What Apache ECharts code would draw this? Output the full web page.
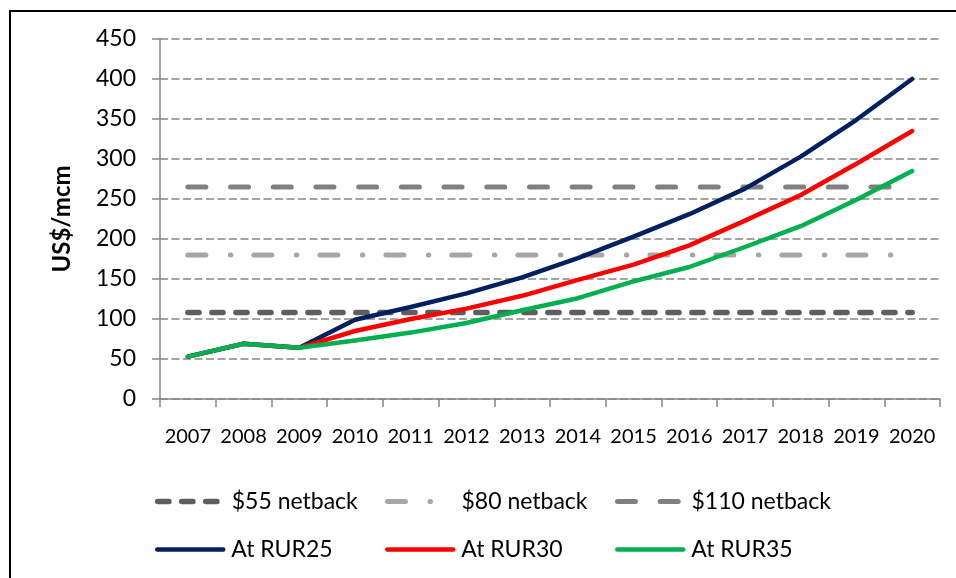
<!DOCTYPE html>
<html>
<head>
<meta charset="utf-8">
<script src="https://cdn.jsdelivr.net/npm/echarts@6/dist/echarts.min.js"></script>
<style>
  html, body { margin: 0; padding: 0; background: #fff; }
  #chart-container { width: 956px; height: 578px; }
</style>
</head>
<body>
<div id="chart-container"></div>
<script>
// chart values
var years = ["2007", "2008", "2009", "2010", "2011", "2012", "2013",
             "2014", "2015", "2016", "2017", "2018", "2019", "2020"];

var rur25 = [53, 69, 64, 99, 115, 132, 152, 176, 203, 231, 263, 303, 349, 400];
var rur30 = [53, 69, 64, 85, 100, 113, 129, 149, 168, 192, 223, 255, 294, 335];
var rur35 = [53, 69, 64, 73, 83, 95, 111, 126, 147, 165, 190, 216, 249, 285];

var netback55 = 108;
var netback80 = 180;
var netback110 = 265;

var yTicks = { min: 0, max: 450, step: 50 };

var fontName = "Lato";

function flat(v) {
  var out = [];
  for (var i = 0; i < years.length; i++) out.push(v);
  return out;
}

var seriesDefs = [
  { name: "$55 netback", data: flat(netback55), color: "#5e5e5e", width: 5.5, type: [11.2, 12.8] },
  { name: "$80 netback", data: flat(netback80), color: "#a6a6a6", width: 5, type: [18, 24.5, 0.5, 23] },
  { name: "$110 netback", data: flat(netback110), color: "#808080", width: 5, type: [18, 24.7] },
  { name: "At RUR25", data: rur25, color: "#002060", width: 4.5, type: "solid" },
  { name: "At RUR30", data: rur30, color: "#ff0000", width: 4.5, type: "solid" },
  { name: "At RUR35", data: rur35, color: "#00b050", width: 4.5, type: "solid" }
];

// legend laid out as 3 columns x 2 rows
var legendCols = [155, 385, 615];
var legendRows = [490, 538];

var legends = seriesDefs.map(function (s, i) {
  return {
    data: [s.name],
    left: legendCols[i % 3],
    top: legendRows[Math.floor(i / 3)],
    padding: 0,
    itemWidth: 66,
    itemHeight: 2,
    selectedMode: false,
    itemStyle: { color: "transparent", borderWidth: 0, borderColor: "transparent" },
    lineStyle: { width: s.width },
    textStyle: {
      fontFamily: fontName,
      fontSize: 23,
      color: "#000",
      padding: [0, 0, 0, 3]
    }
  };
});

var option = {
  animation: false,
  backgroundColor: "#fff",
  textStyle: { fontFamily: fontName },
  graphic: [
    {
      type: "rect",
      shape: { x: 10, y: 11, width: 1000, height: 1000 },
      style: { fill: "none", stroke: "#000", lineWidth: 2 },
      silent: true
    }
  ],
  legend: legends,
  grid: {
    left: 160,
    right: 16,
    top: 39,
    bottom: 179,
    outerBoundsMode: "none"
  },
  xAxis: {
    type: "category",
    data: years,
    boundaryGap: true,
    axisLine: { lineStyle: { color: "#868686", width: 1.5 } },
    axisTick: { show: true, length: 8, interval: 0, lineStyle: { color: "#868686", width: 1.5 } },
    axisLabel: { interval: 0, color: "#000", fontSize: 20, fontFamily: fontName, margin: 28 },
    splitLine: { show: false }
  },
  yAxis: {
    type: "value",
    min: yTicks.min,
    max: yTicks.max,
    interval: yTicks.step,
    name: "US$/mcm",
    nameLocation: "middle",
    nameGap: 86,
    nameTextStyle: { fontFamily: fontName, fontSize: 24, fontWeight: "bold", color: "#000" },
    axisLine: { show: true, lineStyle: { color: "#868686", width: 1.5 } },
    axisTick: { show: true, length: 8, lineStyle: { color: "#868686", width: 1.5 } },
    axisLabel: { color: "#000", fontSize: 23, fontFamily: fontName, margin: 24 },
    splitLine: { show: true, lineStyle: { color: "#868686", width: 1.5, type: [8, 3.5] } }
  },
  series: seriesDefs.map(function (s) {
    return {
      name: s.name,
      type: "line",
      data: s.data,
      symbol: "none",
      silent: true,
      color: s.color,
      lineStyle: { color: s.color, width: s.width, type: s.type, cap: "round", join: "round" }
    };
  })
};

var myChart = echarts.init(document.getElementById("chart-container"));
myChart.setOption(option);
</script>
</body>
</html>
